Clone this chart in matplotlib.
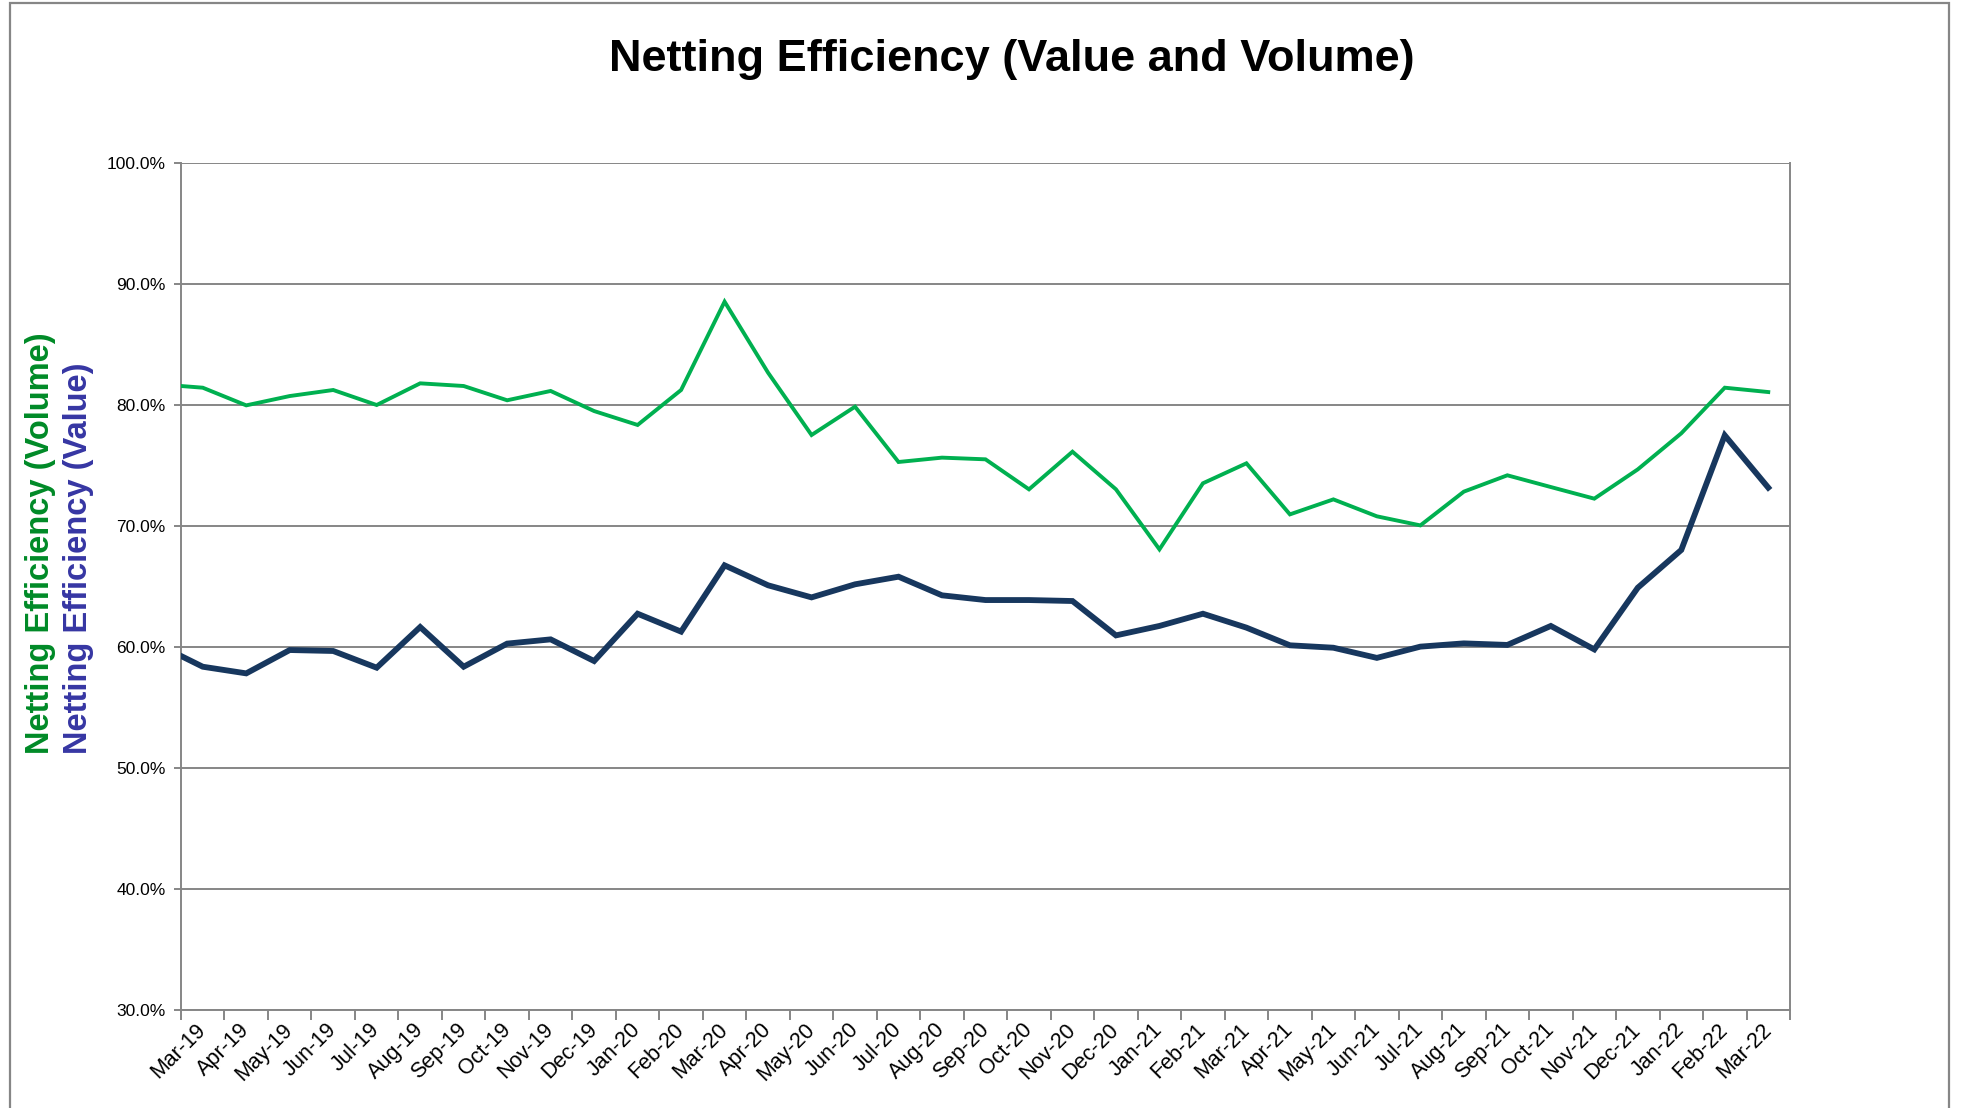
import matplotlib
matplotlib.use("Agg")
import matplotlib.pyplot as plt
from matplotlib.patches import Rectangle
from matplotlib.ticker import FuncFormatter, FixedLocator
import numpy as np

months = ["Mar-19", "Apr-19", "May-19", "Jun-19", "Jul-19", "Aug-19", "Sep-19",
          "Oct-19", "Nov-19", "Dec-19", "Jan-20", "Feb-20", "Mar-20", "Apr-20",
          "May-20", "Jun-20", "Jul-20", "Aug-20", "Sep-20", "Oct-20", "Nov-20",
          "Dec-20", "Jan-21", "Feb-21", "Mar-21", "Apr-21", "May-21", "Jun-21",
          "Jul-21", "Aug-21", "Sep-21", "Oct-21", "Nov-21", "Dec-21", "Jan-22",
          "Feb-22", "Mar-22"]

# netting efficiency by volume (%)
volume = [81.43, 79.97, 80.74, 81.24, 80.0, 81.79, 81.57, 80.39, 81.16, 79.5,
          78.35, 81.24, 88.54, 82.67, 77.52, 79.86, 75.29, 75.65, 75.51, 73.03,
          76.14, 73.03, 68.07, 73.53, 75.18, 70.96, 72.2, 70.8, 70.05, 72.84,
          74.19, 73.22, 72.26, 74.68, 77.66, 81.43, 81.07]

# netting efficiency by value (%)
value = [58.37, 57.82, 59.75, 59.67, 58.29, 61.65, 58.37, 60.28, 60.63, 58.84,
         62.75, 61.27, 66.75, 65.1, 64.1, 65.18, 65.81, 64.27, 63.88, 63.88,
         63.8, 60.96, 61.74, 62.75, 61.6, 60.14, 59.94, 59.1, 60.03, 60.3,
         60.17, 61.74, 59.8, 64.9, 68.02, 77.49, 73.17]

# the lines start on the y axis itself
volume_start = 81.57
value_start = 59.26

grey = "#868686"

fig = plt.figure(figsize=(19.61, 11.08), dpi=100)
ax = fig.add_axes([181/1961, 1 - 1010/1108, (1790-181)/1961, (1010-163)/1108])

x = np.arange(len(months))
xs = np.concatenate([[-0.5], x])
ax.plot(xs, [volume_start] + volume, color="#00b050", lw=2.8, solid_joinstyle="miter", zorder=3)
ax.plot(xs, [value_start] + value, color="#17375e", lw=4.2, solid_joinstyle="miter", zorder=3)

ax.set_xlim(-0.5, len(months) - 0.5)
ax.set_ylim(30, 100)
ax.set_yticks(np.arange(30, 101, 10))
ax.yaxis.set_major_formatter(FuncFormatter(lambda v, p: "%.1f%%" % v))
ax.grid(axis="y", color=grey, lw=1.4)
ax.set_axisbelow(True)

ax.xaxis.set_major_locator(FixedLocator(np.arange(-0.5, len(months), 1.0)))
ax.set_xticklabels([])
for i, m in enumerate(months):
    ax.annotate(m, (i, 0), xycoords=("data", "axes fraction"),
                xytext=(0, -12), textcoords="offset points",
                rotation=45, rotation_mode="anchor", ha="right", va="center",
                fontsize=15.5, family="Liberation Sans")

for s in ax.spines.values():
    s.set_color(grey)
    s.set_linewidth(1.4)
ax.spines["top"].set_visible(False)
ax.tick_params(axis="y", length=5, width=1.4, color=grey, labelsize=12.5, pad=6)
ax.tick_params(axis="x", length=7, width=1.4, color=grey)
for t in ax.get_yticklabels():
    t.set_family("Liberation Sans")

fig.text(0.516, 0.946, "Netting Efficiency (Value and Volume)", ha="center", va="center",
         fontsize=32.5, fontweight="bold", family="Liberation Sans")

fig.text(40/1961, 1 - 754/1108, "Netting Efficiency (Volume)", rotation=90,
         rotation_mode="anchor", ha="left", va="center", fontsize=23.5,
         fontweight="bold", color="#008a27", family="Liberation Sans")
fig.text(78/1961, 1 - 754/1108, "Netting Efficiency (Value)", rotation=90,
         rotation_mode="anchor", ha="left", va="center", fontsize=23.5,
         fontweight="bold", color="#3636a3", family="Liberation Sans")

fig.patches.append(Rectangle((10/1961, -0.05), (1949-10)/1961, 1.05 - 3/1108,
                             transform=fig.transFigure, fill=False,
                             edgecolor=grey, lw=1.6))

fig.savefig("out.png", dpi=100)
